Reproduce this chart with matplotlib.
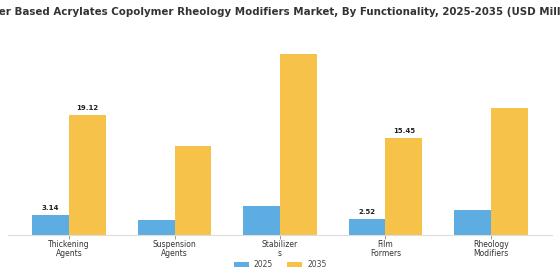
import numpy as np
import matplotlib
matplotlib.use("Agg")
import matplotlib.pyplot as plt

# === data ===
categories = ["Thickening\nAgents", "Suspension\nAgents", "Stabilizer\ns", "Film\nFormers", "Rheology\nModifiers"]
values_2025 = [3.14, 2.35, 4.68, 2.52, 4.0]
values_2035 = [19.12, 14.2, 28.8, 15.45, 20.2]
labels_2025 = {0: "3.14", 3: "2.52"}
labels_2035 = {0: "19.12", 3: "15.45"}

blue = "#5DADE2"
yellow = "#F7C24A"

fig = plt.figure(figsize=(5.6, 2.8), dpi=100)
ax = fig.add_axes([0.014, 0.161, 0.972, 0.70])

x = np.arange(len(categories))
w = 0.35
b1 = ax.bar(x - w / 2, values_2025, w, color=blue, label="2025")
b2 = ax.bar(x + w / 2, values_2035, w, color=yellow, label="2035")

for i, t in labels_2025.items():
    ax.text(x[i] - w / 2, values_2025[i] + 0.6, t, ha="center", va="bottom",
            fontsize=5, fontweight="bold", color="#222222")
for i, t in labels_2035.items():
    ax.text(x[i] + w / 2, values_2035[i] + 0.6, t, ha="center", va="bottom",
            fontsize=5, fontweight="bold", color="#222222")

ax.set_xlim(-0.58, 4.58)
ax.set_ylim(0, 28.8 * 196 / 181)
ax.set_xticks(x)
ax.set_xticklabels(categories, fontsize=5.5, color="#333333", linespacing=1.0)
ax.tick_params(axis="x", length=3, width=0.6, color="#888888", pad=1)
ax.set_yticks([])
for s in ["top", "right", "left"]:
    ax.spines[s].set_visible(False)
ax.spines["bottom"].set_color("#dddddd")
ax.spines["bottom"].set_linewidth(0.8)

# title is wider than the canvas in the reference, so it runs off both edges
fig.text(0.5, 0.957,
         "Water Based Acrylates Copolymer Rheology Modifiers Market, By Functionality, 2025-2035 (USD Million)",
         ha="center", va="center", fontsize=7.4, fontweight="bold", color="#333333")

fig.legend(handles=[b1, b2], labels=["2025", "2035"], loc="center", bbox_to_anchor=(0.5, 0.055),
           ncol=2, frameon=False, fontsize=5.5, handlelength=2.0, handleheight=0.6,
           handletextpad=0.65, columnspacing=1.8, labelcolor="#444444")

fig.savefig("out.png", dpi=100)
